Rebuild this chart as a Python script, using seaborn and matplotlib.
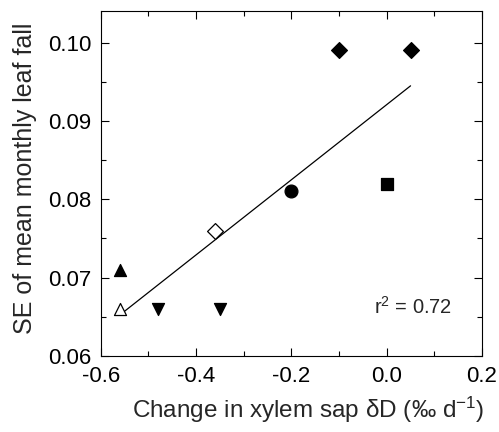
import matplotlib
matplotlib.use("Agg")
import matplotlib.pyplot as plt
import numpy as np
import pandas as pd
import seaborn as sns
from matplotlib.ticker import MultipleLocator, FormatStrFormatter

# values
sap_change = [-0.10, 0.05, 0.00, -0.20, -0.36, -0.56, -0.56, -0.48, -0.35]
leaf_fall_se = [0.099, 0.099, 0.082, 0.081, 0.076, 0.071, 0.066, 0.066, 0.066]
marker_kind = ["D", "D", "s", "o", "D", "^", "^", "v", "v"]
marker_open = [False, False, False, False, True, False, True, False, False]
r2_label = "r$^{2}$ = 0.72"

df = pd.DataFrame({"x": sap_change, "y": leaf_fall_se,
                   "marker": marker_kind, "open": marker_open})

sns.set_theme(style="ticks")
plt.rcParams["font.family"] = ["Liberation Sans", "DejaVu Sans"]
plt.rcParams["mathtext.fontset"] = "custom"
plt.rcParams["mathtext.rm"] = "Liberation Sans"
plt.rcParams["mathtext.default"] = "regular"
plt.rcParams["axes.unicode_minus"] = False

sizes = {"D": 65, "s": 80, "o": 85, "^": 75, "v": 75}

fig = plt.figure(figsize=(4.99, 4.32), dpi=100)
ax = fig.add_axes([0.202, 0.176, 0.764, 0.798])

# fitted line over the data range
sns.regplot(data=df, x="x", y="y", scatter=False, ci=None, truncate=True,
            line_kws={"color": "black", "lw": 0.9}, ax=ax)

for (mk, op), grp in df.groupby(["marker", "open"]):
    sns.scatterplot(data=grp, x="x", y="y", marker=mk, s=sizes[mk],
                    color="white" if op else "black", edgecolor="black",
                    linewidth=0.9, ax=ax, zorder=3, legend=False)

ax.set_xlim(-0.6, 0.2)
ax.set_ylim(0.06, 0.104)
ax.xaxis.set_major_locator(MultipleLocator(0.2))
ax.xaxis.set_minor_locator(MultipleLocator(0.1))
ax.yaxis.set_major_locator(MultipleLocator(0.01))
ax.yaxis.set_minor_locator(MultipleLocator(0.005))
ax.xaxis.set_major_formatter(FormatStrFormatter("%.1f"))
ax.yaxis.set_major_formatter(FormatStrFormatter("%.2f"))
ax.tick_params(which="both", direction="in", top=True, right=True,
               width=0.8, color="black", labelsize=16, labelcolor="black")
ax.tick_params(which="major", length=6, pad=7)
ax.tick_params(which="minor", length=3.5)
for sp in ax.spines.values():
    sp.set_linewidth(0.8)
    sp.set_color("black")

ax.set_xlabel("Change in xylem sap \u03b4D (\u2030 d$^{-1}$)", fontsize=17.5, labelpad=6)
ax.xaxis.label.set_x(0.545)
ax.set_ylabel("SE of mean monthly leaf fall", fontsize=18, labelpad=8)
ax.yaxis.label.set_y(0.515)
ax.text(0.92, 0.142, r2_label, transform=ax.transAxes, ha="right", va="center",
        fontsize=14.5)

fig.savefig("out.png", dpi=100)
